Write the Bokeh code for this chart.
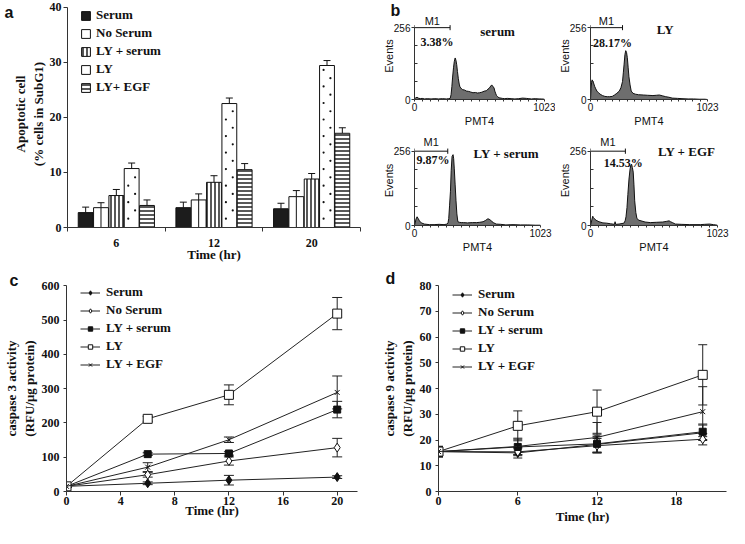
from bokeh.plotting import figure
from bokeh.layouts import row, column
from bokeh.models import (ColumnDataSource, FixedTicker, Whisker, TeeHead, Label,
                          Legend, LegendItem, Range1d)
from bokeh.core.properties import value
from bokeh.embed import file_html
from bokeh.resources import INLINE

SERIF = "Liberation Serif"
SANS = "Liberation Sans"
INK = "#111111"

# ---------------- panel a data ----------------
a_time_labels = ["6", "12", "20"]
a_series = ["Serum", "No Serum", "LY + serum", "LY", "LY+ EGF"]
a_serum = [2.7, 3.6, 3.4]
a_noserum = [3.6, 5.0, 5.6]
a_lyserum = [5.8, 8.2, 8.8]
a_ly = [10.7, 22.5, 29.4]
a_lyegf = [4.0, 10.5, 17.1]
a_serum_err = [1.0, 1.0, 1.0]
a_noserum_err = [0.9, 1.1, 1.1]
a_lyserum_err = [1.1, 1.2, 1.0]
a_ly_err = [1.0, 1.0, 0.9]
a_lyegf_err = [1.0, 1.1, 1.0]

# ---------------- panel b data (channel, events) ----------------
b_titles = ["serum", "LY", "LY + serum", "LY + EGF"]
b_percent = ["3.38%", "28.17%", "9.87%", "14.53%"]
b_m1_end = [280, 280, 270, 281]
hist_serum = [(0, 2), (10, 6), (20, 8), (30, 5), (45, 3), (60, 4), (80, 2), (100, 3), (130, 2),
              (160, 3), (190, 2), (220, 3), (250, 2), (270, 3), (281, 4), (288, 18), (294, 46),
              (300, 80), (307, 113), (313, 135), (320, 148), (326, 140), (332, 124), (338, 100),
              (345, 74), (352, 55), (358, 44), (368, 40), (378, 35), (392, 34), (409, 30),
              (425, 29), (440, 27), (460, 24), (480, 25), (495, 23), (511, 24), (530, 26),
              (550, 30), (565, 31), (578, 37), (588, 40), (600, 48), (608, 52), (614, 48),
              (620, 45), (626, 41), (632, 30), (640, 20), (646, 14), (652, 11), (665, 6),
              (680, 5), (690, 4), (710, 3), (730, 4), (760, 3), (790, 2), (820, 3), (850, 5),
              (880, 4), (900, 3), (920, 2), (950, 3), (980, 2), (1000, 2), (1023, 1)]
hist_ly = [(0, 0), (5, 40), (10, 62), (14, 70), (22, 64), (30, 55), (36, 47), (46, 38), (56, 30),
           (70, 24), (84, 19), (105, 14), (126, 11), (147, 10), (168, 10), (190, 11), (210, 16),
           (230, 22), (252, 30), (266, 42), (280, 64), (287, 95), (294, 126), (301, 160),
           (308, 174), (315, 168), (322, 149), (329, 115), (336, 81), (346, 52), (356, 30),
           (372, 22), (392, 19), (420, 17), (462, 16), (500, 15), (546, 14), (575, 15),
           (602, 16), (630, 13), (658, 10), (686, 8), (714, 5), (760, 4), (800, 3), (854, 2),
           (900, 2), (950, 1), (1000, 1), (1023, 0)]
hist_lyserum = [(0, 0), (5, 8), (12, 22), (21, 30), (30, 24), (40, 16), (55, 9), (80, 5),
                (120, 3), (159, 3), (200, 4), (240, 3), (265, 5), (272, 9), (278, 24), (285, 70),
                (292, 118), (298, 190), (305, 238), (313, 244), (318, 230), (323, 195),
                (330, 140), (337, 85), (344, 40), (352, 13), (365, 11), (380, 10), (398, 10),
                (430, 9), (470, 10), (504, 10), (530, 11), (557, 13), (575, 17), (588, 21),
                (596, 23), (604, 22), (612, 20), (623, 16), (640, 10), (663, 5), (700, 4),
                (742, 2), (800, 3), (860, 2), (920, 2), (980, 1), (1023, 1)]
hist_lyegf = [(0, 0), (5, 8), (12, 22), (18, 32), (24, 27), (30, 24), (45, 18), (68, 13),
              (100, 9), (131, 8), (160, 6), (193, 4), (198, 13), (203, 4), (230, 5), (269, 8),
              (279, 16), (286, 30), (294, 62), (301, 107), (310, 160), (319, 195), (325, 208),
              (331, 211), (337, 200), (344, 184), (350, 140), (356, 85), (365, 45), (374, 24),
              (390, 18), (407, 16), (440, 12), (482, 10), (530, 11), (582, 12), (610, 14),
              (633, 16), (645, 13), (660, 10), (683, 5), (730, 4), (800, 3), (884, 3),
              (920, 4), (959, 5), (990, 3), (1023, 1)]

# ---------------- panel c / d data ----------------
cd_times = [0, 6, 12, 20]
cd_series = ["Serum", "No Serum", "LY + serum", "LY", "LY + EGF"]
c_serum = [15, 24, 33, 42]
c_noserum = [15, 49, 89, 128]
c_lyserum = [15, 109, 111, 239]
c_ly = [15, 212, 282, 519]
c_lyegf = [15, 71, 151, 289]
c_serum_err = [3, 4, 14, 4]
c_noserum_err = [3, 7, 12, 27]
c_lyserum_err = [3, 4, 5, 24]
c_ly_err = [3, 7, 29, 47]
c_lyegf_err = [3, 13, 8, 48]

d_serum = [15.5, 15.0, 18.3, 22.8]
d_noserum = [15.5, 15.4, 17.8, 20.3]
d_lyserum = [15.5, 17.3, 18.5, 23.2]
d_ly = [15.5, 25.5, 31.0, 45.3]
d_lyegf = [15.5, 17.5, 21.0, 31.0]
d_serum_err = [2.0, 2.0, 3.0, 3.0]
d_noserum_err = [2.0, 1.5, 2.8, 2.2]
d_lyserum_err = [2.0, 3.0, 3.5, 3.0]
d_ly_err = [2.0, 5.8, 8.4, 11.7]
d_lyegf_err = [2.0, 3.2, 5.8, 9.7]


def base_fig(width, height, x_range, y_range, left, right, top, bottom):
    p = figure(width=width, height=height, x_range=x_range, y_range=y_range,
               output_backend="svg", toolbar_location=None,
               min_border_left=left, min_border_right=right,
               min_border_top=top, min_border_bottom=bottom)
    p.grid.visible = False
    p.outline_line_color = None
    p.background_fill_color = "white"
    p.border_fill_color = "white"
    for ax in p.axis:
        ax.axis_line_color = "#333333"
        ax.major_tick_line_color = "#333333"
        ax.minor_tick_line_color = "#333333"
        ax.major_label_text_color = INK
        ax.axis_label_text_color = INK
    return p


def serif_axes(p, tick_size="12px", label_size="13px"):
    for ax in p.axis:
        ax.major_label_text_font = SERIF
        ax.major_label_text_font_style = "bold"
        ax.major_label_text_font_size = tick_size
        ax.axis_label_text_font = SERIF
        ax.axis_label_text_font_style = "bold"
        ax.axis_label_text_font_size = label_size


def letter(p, text, sx, sy, side):
    p.add_layout(Label(x=sx, y=sy, x_units="screen", y_units="screen", text=text,
                       text_font=SANS, text_font_style="bold", text_font_size="16px",
                       text_color=INK, text_baseline="top", text_align="left"), side)


# ================= panel a =================
pa = base_fig(362, 264, Range1d(-0.5, 2.5), Range1d(0, 41.2), 66, 2, 0, 35)
serif_axes(pa)
pa.xaxis.ticker = FixedTicker(ticks=[0, 1, 2], minor_ticks=[-0.5, 0.5, 1.5, 2.5])
pa.xaxis.major_label_overrides = {i: lab for i, lab in enumerate(a_time_labels)}
pa.xaxis.major_tick_line_color = None
pa.xaxis.major_tick_out = 0
pa.xaxis.major_label_standoff = 7
pa.xaxis.minor_tick_out = 4
pa.xaxis.minor_tick_in = 0
pa.xaxis.axis_label = "Time (hr)"
pa.xaxis.axis_label_standoff = -3
pa.yaxis.ticker = FixedTicker(ticks=[0, 10, 20, 30, 40])
pa.yaxis.bounds = (0, 40)
pa.yaxis.minor_tick_line_color = None
pa.yaxis.major_tick_out = 4
pa.yaxis.major_tick_in = 0
pa.yaxis.major_label_standoff = 2
pa.yaxis.axis_label = "Apoptotic cell\n(% cells in SubG1)"
pa.yaxis.axis_label_standoff = 1

a_vals = [a_serum, a_noserum, a_lyserum, a_ly, a_lyegf]
a_errs = [a_serum_err, a_noserum_err, a_lyserum_err, a_ly_err, a_lyegf_err]
a_offsets = [-0.314, -0.157, 0.0, 0.157, 0.314]
a_width = 0.152
a_styles = [
    dict(fill_color="#1c1c1c"),
    dict(fill_color="white"),
    dict(fill_color="white", hatch_pattern="vertical_line", hatch_scale=4, hatch_weight=1.4,
         hatch_color=INK),
    dict(fill_color="white"),
    dict(fill_color="white", hatch_pattern="horizontal_line", hatch_scale=4, hatch_weight=1.4,
         hatch_color=INK),
]
a_items = []
for j, name in enumerate(a_series):
    xs = [i + a_offsets[j] for i in range(len(a_time_labels))]
    src = ColumnDataSource(dict(x=xs, top=a_vals[j],
                                upper=[v + e for v, e in zip(a_vals[j], a_errs[j])]))
    r = pa.vbar(x="x", top="top", width=a_width, bottom=0, source=src,
                line_color=INK, line_width=1, **a_styles[j])
    if name == "No Serum":
        # the half-split fill: a single rule down the middle of the bar
        pa.segment(x0="x", y0=0, x1="x", y1="top", source=src, line_color=INK, line_width=1)
    if name == "LY":
        # sparse dotted fill texture, staggered in two columns inside each bar
        dx, dy = [], []
        for xc, v in zip(xs, a_vals[j]):
            k = 0
            while 1.6 + 1.5 * k < v - 0.4:
                dx.append(xc + (-0.035 if k % 2 == 0 else 0.035))
                dy.append(1.6 + 1.5 * k)
                k += 1
        pa.scatter(dx, dy, marker="circle", size=2.2, fill_color=INK, line_color=None)
    pa.add_layout(Whisker(source=src, base="x", upper="upper", lower="top", dimension="height",
                          line_color=INK, line_width=1,
                          upper_head=TeeHead(size=7, line_color=INK, line_width=1),
                          lower_head=None))
    a_items.append(LegendItem(label=name, renderers=[r]))
leg_a = Legend(items=a_items, location=(13, 132), glyph_width=11, glyph_height=11,
               label_height=15, spacing=2, padding=0, margin=0, label_standoff=5,
               label_text_font=SERIF, label_text_font_style="bold", label_text_font_size="13px",
               label_text_color=INK, border_line_color=None, background_fill_alpha=0)
pa.add_layout(leg_a)
letter(pa, "a", 4, 224, "left")


# ================= panel b =================
def hist_panel(width, height, left, right, top, bottom, data, title, pct, m1_end,
               title_xy, pct_xy, m1_y):
    p = base_fig(width, height, Range1d(0, 1023), Range1d(0, 310), left, right, top, bottom)
    xs = [d[0] for d in data]
    ys = [d[1] for d in data]
    p.varea(x=xs, y1=[0] * len(xs), y2=ys, fill_color="#6e6e6e")
    p.line(xs, ys, line_color=INK, line_width=1)
    p.segment(x0=[0], y0=[256], x1=[m1_end], y1=[256], line_color=INK, line_width=1)
    p.segment(x0=[0, m1_end], y0=[247, 247], x1=[0, m1_end], y1=[265, 265],
              line_color=INK, line_width=1)
    p.text(x=[m1_end / 2], y=[m1_y], text=["M1"], text_font=value(SANS),
           text_font_size="11px", text_align="center", text_baseline="middle", text_color=INK)
    p.text(x=[title_xy[0]], y=[title_xy[1]], text=[title], text_font=value(SERIF),
           text_font_style="bold", text_font_size="13px", text_align="center",
           text_baseline="middle", text_color=INK)
    p.text(x=[pct_xy[0]], y=[pct_xy[1]], text=[pct], text_font=value(SERIF),
           text_font_style="bold", text_font_size="12px", text_align="center",
           text_baseline="middle", text_color=INK)
    for ax in p.axis:
        ax.major_label_text_font = SANS
        ax.major_label_text_font_size = "10px"
        ax.axis_label_text_font = SANS
        ax.axis_label_text_font_size = "11px"
        ax.axis_label_text_font_style = "normal"
    p.yaxis.ticker = FixedTicker(ticks=[0, 256], minor_ticks=[64, 128, 192])
    p.yaxis.bounds = (0, 256)
    p.yaxis.major_tick_out = 3
    p.yaxis.major_tick_in = 0
    p.yaxis.minor_tick_in = 3
    p.yaxis.minor_tick_out = 0
    p.yaxis.major_label_standoff = 1
    p.yaxis.axis_label = "Events"
    p.yaxis.axis_label_standoff = -4
    p.xaxis.ticker = FixedTicker(ticks=[0, 1023], minor_ticks=list(range(64, 1023, 64)))
    p.xaxis.major_tick_out = 2
    p.xaxis.major_tick_in = 0
    p.xaxis.minor_tick_out = 2
    p.xaxis.minor_tick_in = 0
    p.xaxis.major_label_standoff = 1
    p.xaxis.axis_label = "PMT4"
    p.xaxis.axis_label_standoff = 1
    return p


b1 = hist_panel(193, 129, 52, 11, 11, 26, hist_serum, b_titles[0], b_percent[0], b_m1_end[0],
                (654, 244), (177, 206), 280)
b2 = hist_panel(174, 129, 32, 22, 12, 26, hist_ly, b_titles[1], b_percent[1], b_m1_end[1],
                (654, 249), (193, 203), 280)
b3 = hist_panel(193, 135, 52, 15, 6, 39, hist_lyserum, b_titles[2], b_percent[2], b_m1_end[2],
                (745, 249), (150, 226), 287)
b4 = hist_panel(174, 135, 33, 12, 6, 39, hist_lyegf, b_titles[3], b_percent[3], b_m1_end[3],
                (775, 256), (263, 217), 287)
letter(b1, "b", 21, 98, "left")


# ================= panels c, d =================
markers = [
    dict(marker="diamond", size=9, fill_color=INK),
    dict(marker="diamond", size=9, fill_color="white"),
    dict(marker="square", size=7, fill_color=INK),
    dict(marker="square", size=9, fill_color="white"),
    dict(marker="x", size=7, fill_color=INK),
]


def line_panel(width, xr, yr, ybounds, left, right, top, bottom, vals, errs, xticks, yticks,
               ylabel, legend_xy, cap, xlabel_standoff):
    p = base_fig(width, 264, Range1d(*xr), Range1d(*yr), left, right, top, bottom)
    serif_axes(p)
    p.xaxis.ticker = FixedTicker(ticks=xticks)
    p.yaxis.ticker = FixedTicker(ticks=yticks)
    p.yaxis.bounds = ybounds
    for ax in p.axis:
        ax.minor_tick_line_color = None
        ax.major_tick_in = 0
    p.xaxis.major_tick_out = 4
    p.xaxis.major_label_standoff = 1
    p.xaxis.axis_label = "Time (hr)"
    p.xaxis.axis_label_standoff = xlabel_standoff
    p.yaxis.major_tick_out = 3
    p.yaxis.major_label_standoff = 4
    p.yaxis.axis_label = ylabel
    p.yaxis.axis_label_standoff = 2
    items = []
    for j, name in enumerate(cd_series):
        src = ColumnDataSource(dict(x=cd_times, y=vals[j],
                                    lo=[v - e for v, e in zip(vals[j], errs[j])],
                                    hi=[v + e for v, e in zip(vals[j], errs[j])]))
        p.add_layout(Whisker(source=src, base="x", upper="hi", lower="lo", dimension="height",
                             line_color="#222222", line_width=1,
                             upper_head=TeeHead(size=cap, line_color="#222222", line_width=1),
                             lower_head=TeeHead(size=cap, line_color="#222222", line_width=1)))
        lr = p.line("x", "y", source=src, line_color="#222222", line_width=1)
        m = markers[j]
        sr = p.scatter("x", "y", source=src, marker=m["marker"], size=m["size"],
                       fill_color=m["fill_color"], line_color=INK, line_width=1)
        items.append(LegendItem(label=name, renderers=[lr, sr]))
    leg = Legend(items=items, location=legend_xy, glyph_width=20, glyph_height=11,
                 label_height=15, spacing=2, padding=0, margin=0, label_standoff=6,
                 label_text_font=SERIF, label_text_font_style="bold",
                 label_text_font_size="13px", label_text_color=INK,
                 border_line_color=None, background_fill_alpha=0)
    p.add_layout(leg)
    return p


pc = line_panel(377, (0, 21.5), (0, 601), (0, 600), 65, 20, 19, 37,
                [c_serum, c_noserum, c_lyserum, c_ly, c_lyegf],
                [c_serum_err, c_noserum_err, c_lyserum_err, c_ly_err, c_lyegf_err],
                [0, 4, 8, 12, 16, 20], [0, 100, 200, 300, 400, 500, 600],
                "caspase 3 activity\n(RFU/\u03bcg protein)", (14, 119), 10, -5)
pd_ = line_panel(352, (0, 21.8), (0, 80), (0, 80), 61, 3, 21, 37,
                 [d_serum, d_noserum, d_lyserum, d_ly, d_lyegf],
                 [d_serum_err, d_noserum_err, d_lyserum_err, d_ly_err, d_lyegf_err],
                 [0, 6, 12, 18], [0, 10, 20, 30, 40, 50, 60, 70, 80],
                 "caspase 9 activity\n(RFU/\u03bcg protein)", (14, 117), 9, 1)
letter(pc, "c", -57, 14, "above")
letter(pd_, "d", -53, 16, "above")

layout = column(row(pa, column(row(b1, b2), row(b3, b4))), row(pc, pd_))
open("out.html", "w").write(file_html(layout, INLINE))
